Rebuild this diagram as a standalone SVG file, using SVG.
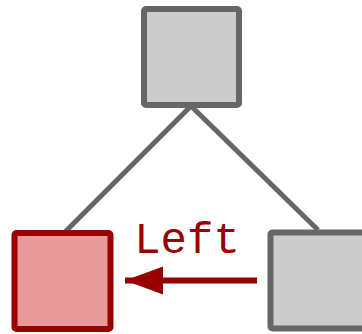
<svg xmlns="http://www.w3.org/2000/svg" width="362" height="334" viewBox="0 0 362 334">
  <style>
    .node { fill: #cccccc; stroke: #666666; stroke-width: 6; }
    .node.active { fill: #e89a9a; stroke: #990000; }
    .edge { stroke: #666666; stroke-width: 5; fill: none; }
    .move { stroke: #990000; stroke-width: 6; fill: none; }
    .label { font-family: "Liberation Mono", "Courier New", monospace; font-size: 44px; fill: #990000; }
  </style>
  <defs>
    <marker id="head" markerUnits="userSpaceOnUse" markerWidth="40" markerHeight="30" refX="38" refY="14" orient="auto">
      <path d="M0,0 L38,14 L0,28 Z" fill="#990000"/>
    </marker>
  </defs>
  <g id="connectors">
    <line class="edge" x1="191" y1="106" x2="64" y2="233"/>
    <line class="edge" x1="191" y1="106" x2="318" y2="230"/>
  </g>
  <g id="root">
    <rect class="node" x="144" y="9" width="95" height="96" rx="2"/>
  </g>
  <g id="left">
    <rect class="node active" x="14.5" y="233" width="96" height="96" rx="2"/>
  </g>
  <g id="right">
    <rect class="node" x="270.5" y="232.5" width="100" height="96" rx="2"/>
  </g>
  <g id="move">
    <line class="move" x1="257" y1="280.5" x2="125" y2="280.5" marker-end="url(#head)"/>
    <text class="label" x="187" y="253" text-anchor="middle">Left</text>
  </g>
</svg>
